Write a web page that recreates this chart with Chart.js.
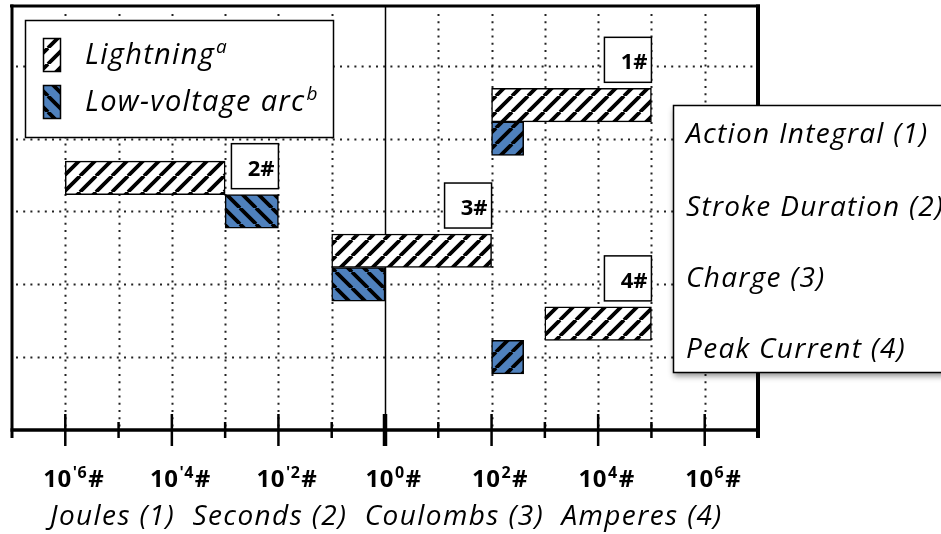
<!DOCTYPE html>
<html>
<head>
<meta charset="utf-8">
<script src="https://cdn.jsdelivr.net/npm/chart.js@4.4.0/dist/chart.umd.min.js"></script>
<style>
  html, body { margin: 0; padding: 0; background: #fff; }
  canvas { display: block; }
</style>
</head>
<body>
<canvas id="chart" width="941" height="534"></canvas>
<script>
// Quantities compared (one row each), listed top to bottom
const rowNames = ['Action Integral (1)', 'Stroke Duration (2)', 'Charge (3)', 'Peak Current (4)'];
const rowTags = ['1#', '2#', '3#', '4#'];

// Typical ranges [low, high] per quantity
const lightningLow  = [1e2, 1e-6, 1e-1, 1e3];
const lightningHigh = [1e5, 1e-3, 1e2, 1e5];
const arcLow  = [1e2, 1e-3, 1e-1, 1e2];
const arcHigh = [4e2, 1e-2, 1e0, 4e2];

const seriesNames = ['Lightning', 'Low-voltage arc'];
const seriesNotes = ['a', 'b'];

// Decade exponents that get a label on the shared log axis
const tickExponents = [-6, -4, -2, 0, 2, 4, 6];
const unitsLine = 'Joules (1)  Seconds (2)  Coulombs (3)  Amperes (4)';

// ---- styling ----
const FONT = '"Open Sans", Lato, "Liberation Sans", sans-serif';
const BLUE = '#4f81bd';
const arcHatchDir = ['/', '\\', '\\', '/'];
const LIGHTNING_OFFSET = 0.46;   // lightning bar sits just above the arc bar of its row

function stripes(bg, dir) {
  const s = 16;
  const c = document.createElement('canvas');
  c.width = s; c.height = s;
  const g = c.getContext('2d');
  g.fillStyle = bg; g.fillRect(0, 0, s, s);
  g.strokeStyle = '#000'; g.lineWidth = 3.8;
  g.beginPath();
  for (let k = -1; k <= 1; k++) {
    if (dir === '/') { g.moveTo(k * s, s); g.lineTo(k * s + s, 0); }
    else { g.moveTo(k * s, 0); g.lineTo(k * s + s, s); }
  }
  g.stroke();
  return g.createPattern(c, 'repeat');
}

const hatchLightning = stripes('#ffffff', '/');
const hatchArcRows = arcHatchDir.map(d => stripes(BLUE, d));
const hatchArcKey = stripes(BLUE, '\\');

const rowPos = rowNames.map((_, i) => rowNames.length - i);

const lightningData = rowNames.map((_, i) => ({ y: rowPos[i] + LIGHTNING_OFFSET, x: [lightningLow[i], lightningHigh[i]] }));
const arcData = rowNames.map((_, i) => ({ y: rowPos[i], x: [arcLow[i], arcHigh[i]] }));

function setFont(ctx, style, size, spacing) {
  ctx.font = `${style} ${size}px ${FONT}`;
  ctx.letterSpacing = (spacing || 0) + 'px';
}

function dotted(ctx, x1, y1, x2, y2) {
  ctx.save();
  ctx.strokeStyle = '#222';
  ctx.lineWidth = 2;
  ctx.setLineDash([2, 5.2]);
  ctx.beginPath(); ctx.moveTo(x1, y1); ctx.lineTo(x2, y2); ctx.stroke();
  ctx.restore();
}

function line(ctx, x1, y1, x2, y2, w) {
  ctx.save();
  ctx.strokeStyle = '#000'; ctx.lineWidth = w; ctx.lineCap = 'butt';
  ctx.beginPath(); ctx.moveTo(x1, y1); ctx.lineTo(x2, y2); ctx.stroke();
  ctx.restore();
}

function boxWithShadow(ctx, x, y, w, h, shadow) {
  ctx.save();
  if (shadow) {
    ctx.shadowColor = 'rgba(0,0,0,0.45)';
    ctx.shadowBlur = 6; ctx.shadowOffsetX = 0; ctx.shadowOffsetY = 3;
  }
  ctx.fillStyle = '#fff';
  ctx.fillRect(x, y, w, h);
  ctx.restore();
  ctx.save();
  ctx.strokeStyle = '#000'; ctx.lineWidth = 1.5;
  ctx.strokeRect(x, y, w, h);
  ctx.restore();
}

// text with a raised, smaller trailing part
function textWithSup(ctx, x, y, main, sup, size, supSize, rise, style, spacing) {
  setFont(ctx, style, size, spacing);
  ctx.fillText(main, x, y);
  const w = ctx.measureText(main).width;
  setFont(ctx, style, supSize, 0);
  ctx.fillText(sup, x + w + 1, y - rise);
}

const gridPlugin = {
  id: 'gridPlugin',
  beforeDatasetsDraw(chart) {
    const { ctx, chartArea: a, scales: { x, y } } = chart;
    // vertical decade lines
    for (let e = -6; e <= 6; e++) {
      const px = Math.round(x.getPixelForValue(Math.pow(10, e))) + 0.5;
      if (e === 0) line(ctx, px, a.top, px, a.bottom, 1.5);
      else dotted(ctx, px, a.top + 8, px, a.bottom);
    }
    // horizontal lines at each row level
    for (let v = 1; v <= 5; v++) {
      const py = Math.round(y.getPixelForValue(v)) + 0.5;
      dotted(ctx, a.left + 4, py, a.right, py);
    }
  },
  afterDraw(chart) {
    const { ctx, chartArea: a, scales: { x, y } } = chart;
    ctx.save();

    // frame and axis line
    line(ctx, a.left - 2, a.top, a.right + 2, a.top, 3);
    line(ctx, a.left, a.top - 1.5, a.left, a.bottom + 8, 3);
    line(ctx, a.right, a.top - 1.5, a.right, a.bottom + 8, 4);
    line(ctx, a.left - 1.5, a.bottom, a.right + 2, a.bottom, 3.5);

    // decade ticks
    for (let e = -6; e <= 6; e++) {
      const px = x.getPixelForValue(Math.pow(10, e));
      if (e === 0) line(ctx, px, a.bottom - 16, px, a.bottom + 16, 4.5);
      else if (e % 2 === 0) line(ctx, px, a.bottom - 16, px, a.bottom + 16, 2.5);
      else line(ctx, px, a.bottom - 8, px, a.bottom + 8, 2.5);
    }

    // decade labels
    ctx.fillStyle = '#000';
    ctx.textBaseline = 'alphabetic';
    ctx.textAlign = 'left';
    tickExponents.forEach(e => {
      const px = x.getPixelForValue(Math.pow(10, e));
      const sup = e < 0 ? "'" + Math.abs(e) : String(e);
      setFont(ctx, 'bold', 24, 0.5);
      const wMain = ctx.measureText('10').width;
      setFont(ctx, 'bold', 16, 0.5);
      const wSup = ctx.measureText(sup).width;
      const start = px - (wMain + 1 + wSup) / 2;
      setFont(ctx, 'bold', 24, 0.5);
      ctx.fillText('10', start, 487);
      setFont(ctx, 'bold', 16, 0.5);
      ctx.fillText(sup, start + wMain + 1, 478);
      setFont(ctx, 'bold', 24, 0.5);
      ctx.fillText('#', start + wMain + 2 + wSup, 487);
    });

    // units line
    setFont(ctx, 'italic', 28, 1.4);
    ctx.fillText(unitsLine, 50, 525);

    // row tag boxes, placed over the right end of each row's longest bar
    rowNames.forEach((_, i) => {
      const useArc = arcHigh[i] > lightningHigh[i];
      const end = useArc ? arcHigh[i] : lightningHigh[i];
      const topVal = (useArc ? rowPos[i] : rowPos[i] + LIGHTNING_OFFSET) + LIGHTNING_OFFSET / 2;
      const right = x.getPixelForValue(end);
      const bottom = y.getPixelForValue(topVal) - 6;
      const bw = 47, bh = 45;
      boxWithShadow(ctx, right - bw, bottom - bh, bw, bh, false);
      ctx.fillStyle = '#000';
      setFont(ctx, 'bold', 22, 0);
      ctx.textAlign = 'right';
      ctx.fillText(rowTags[i], right - 4, bottom - 13);
      ctx.textAlign = 'left';
    });

    // series key
    boxWithShadow(ctx, 25.5, 20.5, 308, 117, false);
    const swatches = [hatchLightning, hatchArcKey];
    [38.5, 85.5].forEach((sy, k) => {
      ctx.fillStyle = swatches[k];
      ctx.fillRect(43.5, sy, 17, 33);
      ctx.strokeStyle = '#000'; ctx.lineWidth = 1.5;
      ctx.strokeRect(43.5, sy, 17, 33);
      ctx.fillStyle = '#000';
      textWithSup(ctx, 85, sy + 25, seriesNames[k], seriesNotes[k], 29, 19, 11, 'italic', 1.3);
    });

    // quantity names box
    boxWithShadow(ctx, 673.5, 105.5, 290, 267, true);
    ctx.fillStyle = '#000';
    setFont(ctx, 'italic', 28, 1.3);
    ctx.textAlign = 'left';
    const baselines = [143, 216, 287, 358];
    rowNames.forEach((n, i) => ctx.fillText(n, 686, baselines[i]));

    ctx.restore();
  }
};

new Chart(document.getElementById('chart'), {
  type: 'bar',
  data: {
    datasets: [
      { label: seriesNames[0], data: lightningData, backgroundColor: hatchLightning,
        borderColor: '#000', borderWidth: 1.5, borderSkipped: false, grouped: false,
        categoryPercentage: 1, barPercentage: 1 },
      { label: seriesNames[1], data: arcData, backgroundColor: hatchArcRows,
        borderColor: '#000', borderWidth: 1.5, borderSkipped: false, grouped: false,
        categoryPercentage: 1, barPercentage: 1 }
    ]
  },
  options: {
    indexAxis: 'y',
    responsive: false,
    animation: false,
    layout: { padding: { left: 12, top: 6, right: 183, bottom: 104 } },
    plugins: { legend: { display: false }, tooltip: { enabled: false } },
    scales: {
      x: { type: 'logarithmic', min: 1e-7, max: 1e7, display: false },
      y: { type: 'linear', min: 0, max: 5.82, offset: false, display: false, ticks: { stepSize: 1 } }
    }
  },
  plugins: [gridPlugin]
});
</script>
</body>
</html>
